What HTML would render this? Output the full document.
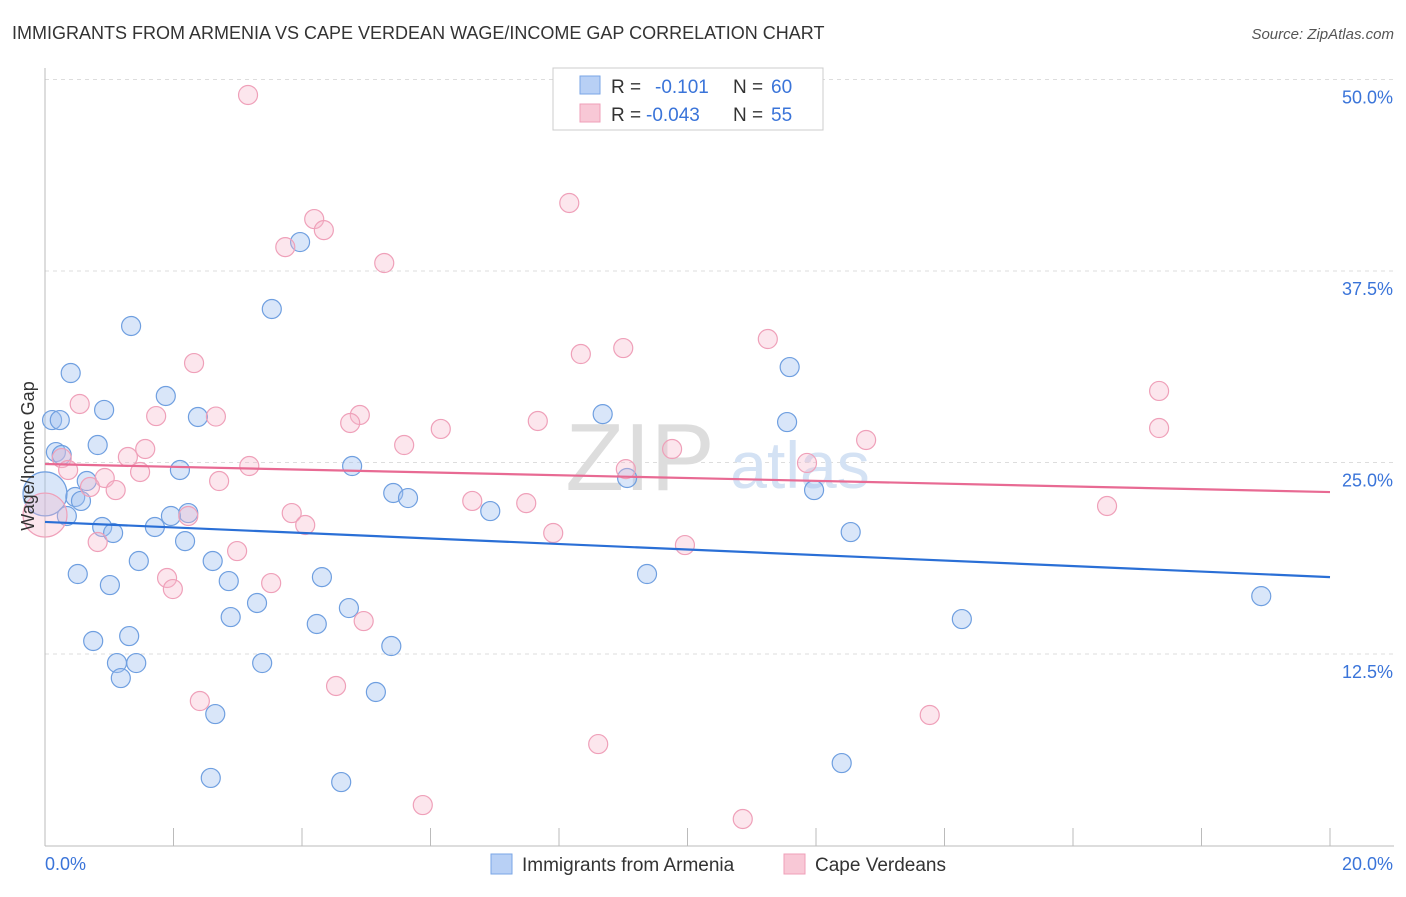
<!DOCTYPE html>
<html><head><meta charset="utf-8"><style>
body{margin:0;background:#fff;font-family:"Liberation Sans",sans-serif}
svg text{font-family:"Liberation Sans",sans-serif}
</style></head><body>
<svg width="1406" height="892" viewBox="0 0 1406 892">
<text x="12" y="39" font-size="18" fill="#333">IMMIGRANTS FROM ARMENIA VS CAPE VERDEAN WAGE/INCOME GAP CORRELATION CHART</text>
<text x="1394" y="39" font-size="15" fill="#555" font-style="italic" text-anchor="end">Source: ZipAtlas.com</text>
<g id="grid"></g>
<text x="640" y="490" font-size="96" fill="#ddd" text-anchor="middle" font-family="Liberation Serif">ZIP</text>
<text x="800" y="488" font-size="66" fill="#d4e2f4" text-anchor="middle">atlas</text>
<line x1="45" y1="68" x2="45" y2="846" stroke="#bbb"/>
<line x1="45" y1="846" x2="1394" y2="846" stroke="#bbb"/>
<g id="ticks"></g>
<g id="pts"></g>
<g id="trend"></g>
<text x="34" y="456" font-size="18" fill="#333" text-anchor="middle" transform="rotate(-90 34 456)">Wage/Income Gap</text>
<g>
<rect x="553" y="68" width="270" height="62" fill="#fff" stroke="#ccc"/>
<rect x="580" y="76" width="20" height="18" fill="#b8d0f5" stroke="#7aa6e6"/>
<rect x="580" y="104" width="20" height="18" fill="#f8c8d6" stroke="#ef9fb8"/>
<text x="611" y="93" font-size="19" fill="#333">R = </text><text x="655" y="93" font-size="19" fill="#3a74d9">-0.101</text>
<text x="733" y="93" font-size="19" fill="#333">N = </text><text x="771" y="93" font-size="19" fill="#3a74d9">60</text>
<text x="611" y="121" font-size="19" fill="#333">R = </text><text x="646" y="121" font-size="19" fill="#3a74d9">-0.043</text>
<text x="733" y="121" font-size="19" fill="#333">N = </text><text x="771" y="121" font-size="19" fill="#3a74d9">55</text>
</g>
<g>
<rect x="491" y="854" width="21" height="20" fill="#b8d0f5" stroke="#7aa6e6"/>
<text x="522" y="871" font-size="19" fill="#333">Immigrants from Armenia</text>
<rect x="784" y="854" width="21" height="20" fill="#f8c8d6" stroke="#ef9fb8"/>
<text x="815" y="871" font-size="19" fill="#333">Cape Verdeans</text>
</g>
</svg>
<script>
const xTicks=[0,2,4,6,8,10,12,14,16,18,20];
const yTicks=[12.5,25,37.5,50];
const yTickLabels=["12.5%","25.0%","37.5%","50.0%"];
const xLabels=["0.0%","20.0%"];
const blueX=[3.97,3.53,1.34,11.59,0.40,1.88,0.92,8.68,2.38,0.11,0.23,11.55,0.82,0.17,0.26,2.10,4.78,9.06,0.65,11.97,5.42,5.65,0.47,0.56,6.93,0,2.23,1.96,0.34,0.89,1.06,1.71,12.54,2.18,1.46,2.61,0.51,4.31,9.37,2.86,1.01,3.30,4.73,2.89,14.27,4.23,18.93,0.75,1.31,5.39,1.12,1.42,3.38,1.18,5.15,2.65,2.58,4.61,12.40];
const blueY=[39.39,35.02,33.91,31.23,30.84,29.34,28.43,28.16,27.97,27.77,27.77,27.64,26.14,25.68,25.49,24.51,24.77,23.99,23.79,23.20,23.01,22.68,22.75,22.49,21.83,22.95,21.70,21.51,21.51,20.79,20.40,20.79,20.46,19.87,18.57,18.57,17.72,17.52,17.72,17.26,17.00,15.83,15.50,14.91,14.78,14.46,16.28,13.35,13.67,13.02,11.91,11.91,11.91,10.93,10.02,8.58,4.41,4.14,5.38];
const pinkX=[3.16,8.16,4.19,4.34,3.74,5.28,11.25,9.00,8.34,2.32,17.34,0.54,1.73,2.66,4.90,4.75,7.67,6.16,17.34,1.56,5.59,12.78,9.76,0.26,0.36,1.29,11.86,9.04,3.18,1.48,0.93,2.71,0.70,1.10,6.65,7.49,16.53,0,3.84,2.23,4.05,7.91,0.82,9.96,2.99,1.90,3.52,1.99,4.96,2.41,4.53,13.77,8.61,5.88,10.86];
const pinkY=[48.99,41.94,40.89,40.17,39.06,38.02,33.06,32.47,32.08,31.49,29.67,28.82,28.03,28.0,28.10,27.58,27.71,27.19,27.25,25.88,26.14,26.47,25.88,25.29,24.51,25.36,24.97,24.57,24.77,24.38,23.99,23.79,23.40,23.20,22.49,22.35,22.16,21.57,21.70,21.51,20.92,20.40,19.81,19.61,19.22,17.46,17.13,16.74,14.65,9.43,10.41,8.52,6.62,2.64,1.73];
const blueTrend=[21.12,17.52];
const pinkTrend=[24.90,23.07];
const NS="http://www.w3.org/2000/svg";
const X=v=>45+v/20*1285, Y=v=>845.5-v*15.32;
function mk(tag,attrs,parent){const e=document.createElementNS(NS,tag);for(const k in attrs)e.setAttribute(k,attrs[k]);document.getElementById(parent).appendChild(e);return e;}
yTicks.forEach((t,i)=>{
 const l=mk('line',{x1:45,x2:1394,y1:Y(t),y2:Y(t),stroke:'#ddd','stroke-dasharray':'4,4'},'grid');
 
 
 const tx=mk('text',{x:1393,y:Y(t)+24,'font-size':18,fill:'#3a74d9','text-anchor':'end'},'grid');
 tx.textContent=yTickLabels[i];
 
 
});
mk('line',{x1:45,x2:1394,y1:Y(50),y2:Y(50),stroke:'#ddd','stroke-dasharray':'4,4'},'grid');
xTicks.forEach(t=>{
 const l=mk('line',{x1:X(t),x2:X(t),y1:828,y2:846,stroke:'#bbb'},'ticks');
 
 
});
[[0,'start',xLabels[0]],[20,'end',xLabels[1]]].forEach(([v,a,s])=>{
 const t=mk('text',{x:v===0?45:1393,y:870,'font-size':18,fill:'#3a74d9','text-anchor':a},'ticks');
 t.textContent=s;
 
 
});
function pts(xs,ys,fill,stroke,name){
 xs.forEach((x,i)=>{
  const r=(x===0)?22:9.5;
  const c=mk('circle',{cx:X(x),cy:Y(ys[i]),r:r,fill:fill,stroke:stroke,'stroke-width':1.2},'pts');
  
  
 });
}
pts(blueX,blueY,'rgba(160,192,240,0.4)','#6f9fe0','armenia-point');
pts(pinkX,pinkY,'rgba(246,182,204,0.35)','#efa0b9','cape-verdean-point');
const b=mk('line',{x1:X(0),x2:X(20),y1:Y(blueTrend[0]),y2:Y(blueTrend[1]),stroke:'#2a6fd6','stroke-width':2.2},'trend');


const p=mk('line',{x1:X(0),x2:X(20),y1:Y(pinkTrend[0]),y2:Y(pinkTrend[1]),stroke:'#e86a93','stroke-width':2.2},'trend');


</script>
</body></html>
